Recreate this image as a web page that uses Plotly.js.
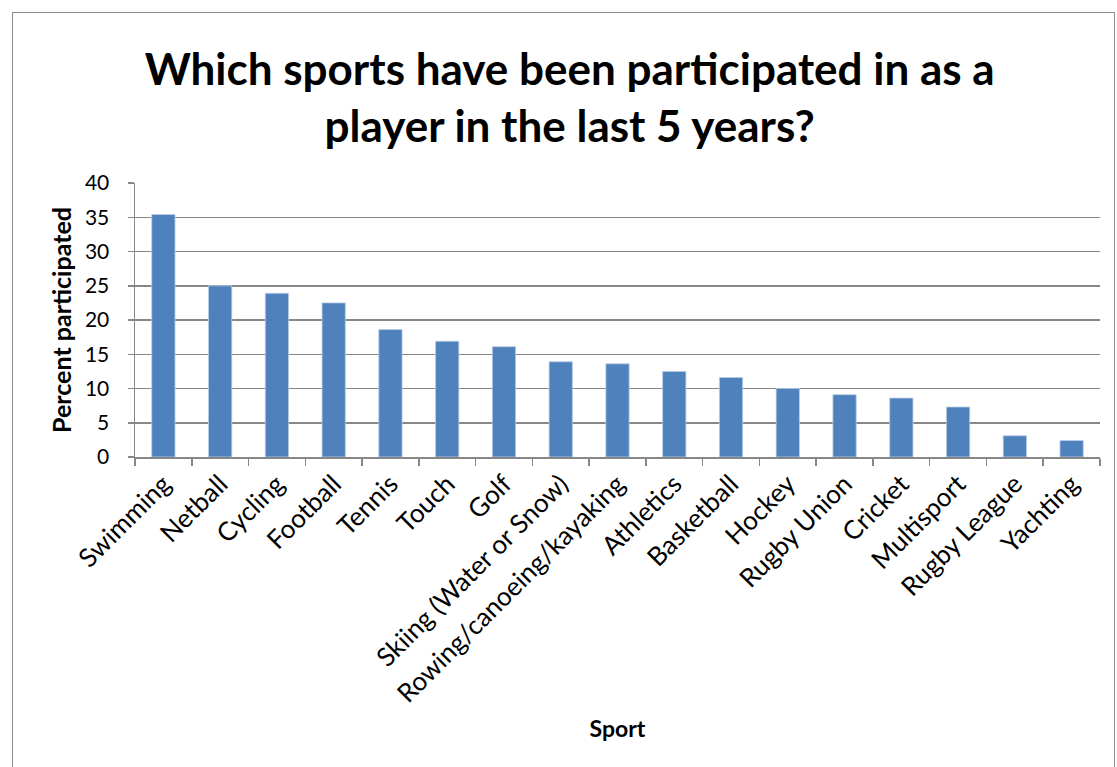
<!DOCTYPE html>
<html>
<head>
<meta charset="utf-8">
<script src="https://cdn.plot.ly/plotly-3.0.1.min.js"></script>
<style>
html,body{margin:0;padding:0;background:#fff;}
#wrap{position:relative;width:1117px;height:767px;overflow:hidden;}
#chart{position:absolute;left:0;top:0;width:1117px;height:767px;}
#frame{position:absolute;left:12px;top:12px;width:1101px;height:780px;border:1.5px solid #8c8c8c;pointer-events:none;}
</style>
</head>
<body>
<div id="wrap"><div id="chart"></div><div id="frame"></div></div>
<script>
const sports = ["Swimming","Netball","Cycling","Football","Tennis","Touch","Golf",
  "Skiing (Water or Snow)","Rowing/canoeing/kayaking","Athletics","Basketball","Hockey",
  "Rugby Union","Cricket","Multisport","Rugby League","Yachting"];
const percent = [35.4,25.0,23.9,22.5,18.6,16.9,16.1,13.9,13.6,12.5,11.6,10.0,9.1,8.6,7.3,3.1,2.4];
const yTicks = [0,5,10,15,20,25,30,35,40];

const font = "Lato, 'Open Sans', sans-serif";
Plotly.newPlot('chart', [{
  type:'bar', x:sports, y:percent,
  marker:{color:'#4f81bd', line:{color:'#b9cde5', width:0.8}},
  hoverinfo:'x+y'
}], {
  width:1117, height:767,
  paper_bgcolor:'rgba(0,0,0,0)', plot_bgcolor:'#fff',
  margin:{l:135,r:17,t:183,b:310},
  bargap:0.59,
  showlegend:false,
  title:{text:'Which sports have been participated in as a<br>player in the last 5 years?',
    font:{family:font,size:44,color:'#000',weight:'bold'}, x:0.51, xanchor:'center', y:0.889, yanchor:'middle'},
  xaxis:{type:'category', tickangle:-45, tickson:'boundaries', ticks:'outside', ticklen:7,
    tickcolor:'#878787', tickwidth:1.5, showline:true, linecolor:'#878787', linewidth:1.5,
    tickfont:{family:font,size:26,color:'#000'}, showgrid:false,
    title:{text:'Sport', font:{family:font,size:23,color:'#000',weight:'bold'}, standoff:13}},
  yaxis:{range:[0,40], tickvals:yTicks, ticks:'outside', ticklen:6, tickcolor:'#878787', tickwidth:1.5,
    showline:true, linecolor:'#878787', linewidth:1.5, showgrid:true, gridcolor:'#878787', gridwidth:1.5,
    zeroline:false, tickfont:{family:font,size:21,color:'#000'}, ticklabelstandoff:14,
    title:{text:'Percent participated', font:{family:font,size:25,color:'#000',weight:'bold'}, standoff:6}}
}, {displayModeBar:false, staticPlot:true});
</script>
</body>
</html>
